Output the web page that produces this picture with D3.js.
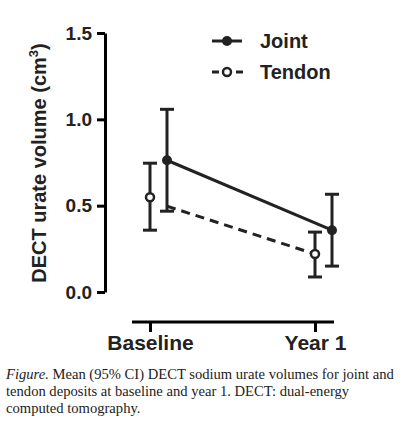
<!DOCTYPE html>
<html><head><meta charset="utf-8">
<script src="https://cdn.jsdelivr.net/npm/d3@7"></script>
<style>
body{margin:0;background:#fff;}
.cap{position:absolute;left:6px;top:366px;width:392px;font-family:"Liberation Serif",serif;font-size:14.6px;line-height:17px;color:#222;}
</style></head><body>
<svg id="chart" width="403" height="365"></svg>
<div class="cap"><span style="font-style:italic">Figure.</span> Mean (95% CI) DECT sodium urate volumes for joint and tendon deposits at baseline and year 1. DECT: dual-energy computed tomography.</div>
<script>
var categories = ["Baseline", "Year 1"];
var jointMean = [0.763, 0.358], jointLo = [0.468, 0.150], jointHi = [1.058, 0.566];
var tendonMean = [0.549, 0.220], tendonLo = [0.358, 0.087], tendonHi = [0.746, 0.347];
var tendonLineStart = 0.497;
var yTicks = [0, 0.5, 1.0, 1.5];

var svg = d3.select("#chart");
var y = d3.scaleLinear().domain([0, 1.5]).range([292, 33]);
var x = d3.scalePoint().domain(categories).range([150, 315]);
var off = 17;
var font = "Liberation Sans, Arial, sans-serif";

// y axis
var ya = svg.append("g").attr("transform", "translate(105,0)")
  .call(d3.axisLeft(y).tickValues(yTicks).tickFormat(d3.format(".1f")).tickSize(8).tickSizeOuter(0));
ya.select(".domain").attr("stroke-width", 3);
ya.selectAll(".tick line").attr("stroke-width", 3);
ya.selectAll("text").attr("font-family", font).attr("font-weight", "bold").attr("font-size", 19).attr("fill", "#222").attr("dx", -2);

// x axis
var xa = svg.append("g").attr("transform", "translate(0,322)")
  .call(d3.axisBottom(x).tickSize(10).tickSizeOuter(0));
xa.select(".domain").attr("d", "M132,0H334").attr("stroke-width", 3);
xa.selectAll(".tick line").attr("stroke-width", 3);
xa.selectAll("text").attr("font-family", font).attr("font-weight", "bold").attr("font-size", 21).attr("fill", "#222").attr("dy", 15);

svg.append("text").attr("transform", "translate(46,163) rotate(-90)").attr("text-anchor", "middle")
  .attr("font-family", font).attr("font-weight", "bold").attr("font-size", 20).attr("fill", "#222")
  .html('DECT urate volume  (cm<tspan dy="-8" font-size="13">3</tspan><tspan dy="8">)</tspan>');

// lines
var jx = function(i){ return x(categories[i]) + off; };
var tx = function(i){ return x(categories[i]); };
svg.append("line").attr("x1", jx(0)).attr("y1", y(jointMean[0])).attr("x2", jx(1)).attr("y2", y(jointMean[1]))
  .attr("stroke", "#222").attr("stroke-width", 3);
svg.append("line").attr("x1", jx(0)).attr("y1", y(tendonLineStart)).attr("x2", tx(1)).attr("y2", y(tendonMean[1]))
  .attr("stroke", "#222").attr("stroke-width", 3).attr("stroke-dasharray", "9,6");

function errBars(xf, lo, hi) {
  var g = svg.append("g").attr("stroke", "#222").attr("stroke-width", 3);
  categories.forEach(function(c, i) {
    var xx = xf(i);
    g.append("line").attr("x1", xx).attr("x2", xx).attr("y1", y(lo[i])).attr("y2", y(hi[i]));
    [lo[i], hi[i]].forEach(function(v){
      g.append("line").attr("x1", xx - 7).attr("x2", xx + 7).attr("y1", y(v)).attr("y2", y(v));
    });
  });
}
errBars(jx, jointLo, jointHi);
errBars(tx, tendonLo, tendonHi);

categories.forEach(function(c, i) {
  svg.append("circle").attr("cx", jx(i)).attr("cy", y(jointMean[i])).attr("r", 5).attr("fill", "#222");
  svg.append("circle").attr("cx", tx(i)).attr("cy", y(tendonMean[i])).attr("r", 4).attr("fill", "#fff").attr("stroke", "#222").attr("stroke-width", 2.5);
});

// legend
var lg = svg.append("g");
lg.append("line").attr("x1", 212).attr("x2", 242).attr("y1", 41).attr("y2", 41).attr("stroke", "#222").attr("stroke-width", 3);
lg.append("circle").attr("cx", 227).attr("cy", 41).attr("r", 5).attr("fill", "#222");
lg.append("line").attr("x1", 212).attr("x2", 244).attr("y1", 72).attr("y2", 72).attr("stroke", "#222").attr("stroke-width", 3).attr("stroke-dasharray", "7,5");
lg.append("circle").attr("cx", 227).attr("cy", 72).attr("r", 4).attr("fill", "#fff").attr("stroke", "#222").attr("stroke-width", 2.5);
[["Joint", 48], ["Tendon", 79]].forEach(function(d){
  lg.append("text").attr("x", 260).attr("y", d[1]).attr("font-family", font).attr("font-weight", "bold").attr("font-size", 20).attr("fill", "#222").text(d[0]);
});
</script>
</body></html>
